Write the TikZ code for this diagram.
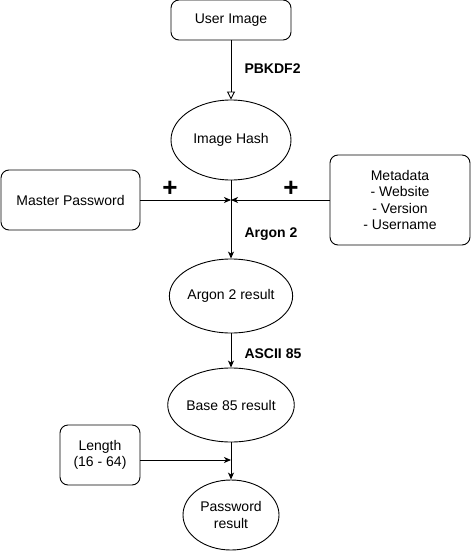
\documentclass[tikz,border=0pt]{standalone}
\usepackage{fontspec}
\setmainfont{Liberation Sans}
\usetikzlibrary{arrows.meta,shapes.geometric}
\begin{document}
\begin{tikzpicture}[x=1pt,y=-1pt,
  box/.style={draw,rounded corners=8pt,line width=0.9pt,align=center,font=\fontsize{14}{16.4}\selectfont,inner sep=0pt},
  oval/.style={draw,ellipse,line width=0.9pt,align=center,font=\fontsize{14}{16.4}\selectfont,inner sep=0pt},
  conn/.style={line width=0.9pt,-{Stealth[length=7pt,width=6pt,inset=2pt]}},
  lbl/.style={font=\bfseries\fontsize{14}{16}\selectfont,anchor=west},
  plus/.style={font=\bfseries\fontsize{26}{26}\selectfont}]
\useasboundingbox (0,0) rectangle (471,551);
\node[box,minimum width=120pt,minimum height=40pt] (user) at (231,20) {User Image};
\node[oval,minimum width=120pt,minimum height=80pt] (hash) at (231,140) {Image Hash};
\node[box,minimum width=139pt,minimum height=60pt] (master) at (70.5,200) {Master Password};
\node[box,minimum width=140pt,minimum height=90pt] (meta) at (400,200) {Metadata\\- Website\\- Version\\- Username};
\coordinate (join) at (231,200);
\node[oval,minimum width=110pt,minimum height=74pt] (argres) at (231,296) {Argon 2 result};
\node[oval,minimum width=110pt,minimum height=74pt] (b85) at (231,405) {Base 85 result};
\node[box,minimum width=80pt,minimum height=60pt] (len) at (100,455) {Length\\(16 - 64)};
\node[oval,minimum width=96pt,minimum height=70pt] (pw) at (231,515) {Password\\result};
\coordinate (join2) at (231,460);
\draw[line width=0.9pt,-{Triangle[open,length=8pt,width=8pt]}] (user) -- (hash);
\node[lbl] (pbk) at (241,69) {PBKDF2};
\draw[line width=0.9pt] (hash) -- (join);
\draw[conn] (join) -- (argres);
\draw[conn] (master) -- (join);
\draw[conn] (meta) -- (join);
\node[plus] (p1) at (170,189) {+};
\node[plus] (p2) at (291,189) {+};
\node[lbl] (arg) at (241,234) {Argon 2};
\draw[conn] (argres) -- (b85);
\node[lbl] (asc) at (241,354) {ASCII 85};
\draw[line width=0.9pt] (b85) -- (join2);
\draw[conn] (join2) -- (pw);
\draw[conn] (len.east |- join2) -- (join2);
\end{tikzpicture}
\end{document}
